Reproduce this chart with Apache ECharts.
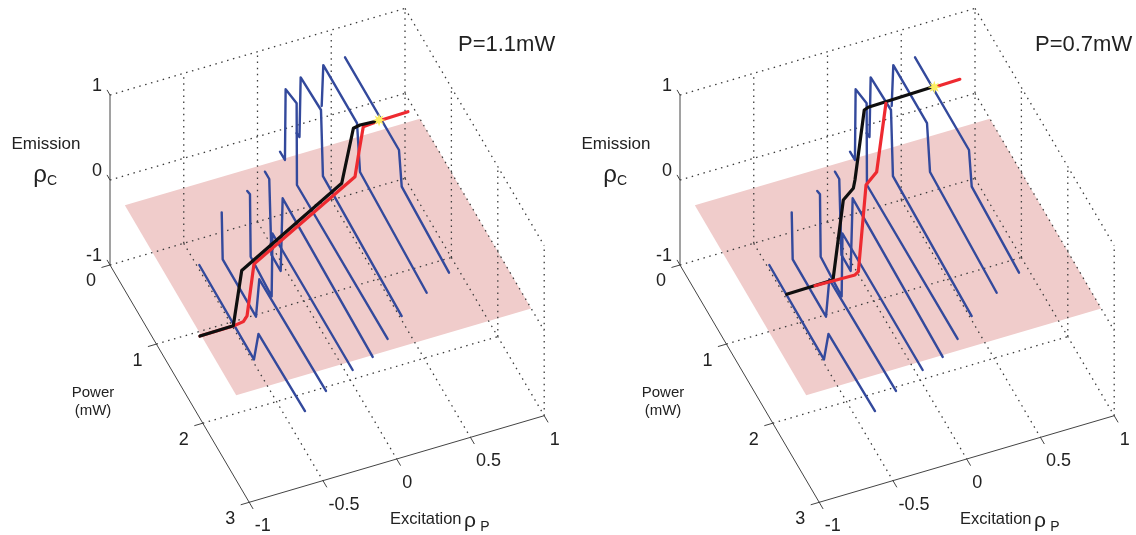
<!DOCTYPE html>
<html>
<head>
<meta charset="utf-8">
<title>Emission vs excitation and power</title>
<style>
  html, body { margin: 0; padding: 0; background: #fff; }
  #main { width: 1136px; height: 535px; }
</style>
<script src="https://cdn.jsdelivr.net/npm/echarts@6/dist/echarts.min.js"></script>
</head>
<body>
<div id="main"></div>
<script>
// tick labels
var excitationTicks = [-1, -0.5, 0, 0.5, 1];
var powerTicks = [0, 1, 2, 3];
var emissionTicks = [-1, 0, 1];

// emission vs power traces, each at a fixed excitation: [power, emission]
var traceExcitation = [-0.489, -0.337, -0.163, -0.043, 0.058, 0.17, 0.343, 0.499];
var trace1 = [[0.3, -0.981], [1.478, -0.996], [1.575, -0.606], [2.578, -0.579]];
var trace2 = [[0.3, -0.439], [0.321, -0.972], [1.039, -0.979], [1.11, -0.473], [2.547, -0.449]];
var trace3 = [[0.297, -0.279], [0.356, -0.264], [0.371, -0.984], [0.823, -1.03], [0.841, -0.273], [2.569, -0.271]];
var trace4 = [[0.297, -0.113], [0.39, -0.113], [0.437, -0.962], [0.636, -0.966], [0.679, -0.071], [2.619, -0.132]];
var trace5 = [[0.3, 0.073], [0.407, 0.075], [0.422, 0.921], [0.659, 0.978], [0.666, 0.022], [2.62, 0.029]];
var trace6 = [[0.3, 0.235], [0.364, 0.248], [0.39, 0.974], [0.828, 0.998], [0.87, 0.259], [2.567, 0.192]];
var trace7 = [[0.293, 0.459], [0.328, 0.973], [1.054, 0.967], [1.119, 0.451], [2.556, 0.368]];
var trace8 = [[0.3, 0.959], [1.463, 0.951], [1.522, 0.574], [2.541, 0.511]];
var powerTraces = [trace1, trace2, trace3, trace4, trace5, trace6, trace7, trace8];

// emission vs excitation sweeps at fixed power: [excitation, emission]
var power11 = 1.1;
var black11 = [[-0.736, -0.946], [-0.51, -0.94], [-0.453, -0.32], [-0.385, -0.251], [0.225, 0.361], [0.304, 0.968], [0.349, 0.984], [0.473, 0.971]];
var red11 = [[-0.736, -0.946], [-0.51, -0.944], [-0.442, -0.927], [-0.417, -0.873], [-0.37, -0.286], [0.315, 0.393], [0.342, 0.673], [0.371, 0.952], [0.484, 0.967], [0.674, 0.974]];
var star11 = [0.478, 0.976];

var power07 = 0.7;
var black07 = [[-0.497, -0.95], [-0.183, -0.942], [-0.113, -0.036], [-0.045, 0.068], [-0.034, 0.16], [0.029, 0.951], [0.056, 0.969], [0.486, 0.985]];
var redLow07 = [[-0.305, -0.946], [-0.034, -0.958], [-0.011, -0.931], [0.041, 0.062], [0.113, 0.179], [0.176, 0.955]];
var redTop07 = [[0.504, 0.976], [0.677, 0.982]];
var star07 = [0.504, 0.977];

// the pink plane at emission 0
var planeEmission = 0;
var planeExcitation = [-1, 1, 1, -1];
var planePower = [0.32, 0.32, 2.72, 2.72];

var BLUE = "#33499c", RED = "#ee2a30", BLACK = "#0f0f0f", PINK = "#f0cccb", INK = "#222";
var FONT = '"Liberation Sans", Arial, sans-serif';
var STAR = "path://M10,0L11.8,5.8L17,3L14.2,8.2L20,10L14.2,11.8L17,17L11.8,14.2L10,20L8.2,14.2L3,17L5.8,11.8L0,10L5.8,8.2L3,3L8.2,5.8Z";

// fixed view of the box, one panel's pixel space
function project(rhoP, power, rhoC) {
  return [
    110 + 147.5 * (rhoP + 1) + 46.4 * power,
    265 - 43.3 * (rhoP + 1) + 79.1 * power - 85 * (rhoC + 1),
  ];
}

var GAP = ["-", "-"];

// box grid, built from the ticks
function gridSegments() {
  var out = [];
  function seg(a, b) {
    out.push(project(a[0], a[1], a[2]), project(b[0], b[1], b[2]), GAP);
  }
  emissionTicks.forEach(function (z) {
    seg([-1, 0, z], [1, 0, z]);
    seg([1, 0, z], [1, 3, z]);
  });
  excitationTicks.forEach(function (x) {
    if (x > -1) seg([x, 0, -1], [x, 0, 1]);
    if (x > -1 && x < 1) seg([x, 0, -1], [x, 3, -1]);
  });
  powerTicks.forEach(function (p) {
    if (p > 0) seg([1, p, -1], [1, p, 1]);
    if (p > 0 && p < 3) seg([-1, p, -1], [1, p, -1]);
  });
  return out;
}

function axisSegments() {
  var out = [];
  function seg(a, b) {
    out.push(project(a[0], a[1], a[2]), project(b[0], b[1], b[2]), GAP);
  }
  seg([-1, 0, -1], [-1, 0, 1]);
  seg([-1, 0, -1], [-1, 3, -1]);
  seg([-1, 3, -1], [1, 3, -1]);
  emissionTicks.forEach(function (z) { seg([-1, 0, z], [-1, -0.06, z]); });
  powerTicks.forEach(function (p) { seg([-1, p, -1], [-1.055, p, -1]); });
  excitationTicks.forEach(function (x) { seg([x, 3, -1], [x, 3.08, -1]); });
  return out;
}

function lineSeries(gridIndex, points, color, width) {
  return {
    type: "line",
    xAxisIndex: gridIndex,
    yAxisIndex: gridIndex,
    data: points,
    symbol: "none",
    clip: false,
    silent: true,
    lineStyle: { color: color, width: width, join: "round", cap: "round" },
  };
}

function tickLabels(gridIndex, ticks, toPoint, align, offset) {
  return {
    type: "scatter",
    xAxisIndex: gridIndex,
    yAxisIndex: gridIndex,
    symbolSize: 1,
    clip: false,
    silent: true,
    itemStyle: { color: "transparent" },
    data: ticks.map(function (t) {
      return { value: toPoint(t), name: String(t) };
    }),
    label: {
      show: true,
      position: "inside",
      formatter: "{b}",
      align: align,
      verticalAlign: "middle",
      offset: offset,
      fontFamily: FONT,
      fontSize: 18,
      color: INK,
      textBorderWidth: 0,
      opacity: 1,
    },
  };
}

function panel(gridIndex, power, sweeps, star) {
  var list = [];

  list.push({
    type: "custom",
    xAxisIndex: gridIndex,
    yAxisIndex: gridIndex,
    silent: true,
    data: planeExcitation.map(function (x, i) {
      return project(x, planePower[i], planeEmission);
    }),
    renderItem: function (params, api) {
      if (params.dataIndex !== 0) return null;
      return {
        type: "polygon",
        shape: {
          points: planeExcitation.map(function (x, i) {
            return api.coord(project(x, planePower[i], planeEmission));
          }),
        },
        style: { fill: PINK },
      };
    },
  });

  var grid = lineSeries(gridIndex, gridSegments(), "#3c3c3c", 1.3);
  grid.lineStyle.type = [1.5, 4.6];
  grid.lineStyle.cap = "butt";
  list.push(grid);
  list.push(lineSeries(gridIndex, axisSegments(), "#444", 1));

  powerTraces.forEach(function (trace, i) {
    var pts = trace.map(function (d) {
      return project(traceExcitation[i], d[0], d[1]);
    });
    list.push(lineSeries(gridIndex, pts, BLUE, 2.4));
  });

  sweeps.forEach(function (s) {
    var pts = s.data.map(function (d) {
      return project(d[0], power, d[1]);
    });
    list.push(lineSeries(gridIndex, pts, s.color, 3.2));
  });

  list.push({
    type: "scatter",
    xAxisIndex: gridIndex,
    yAxisIndex: gridIndex,
    symbol: STAR,
    symbolSize: 13,
    clip: false,
    silent: true,
    z: 5,
    itemStyle: { color: "#fbee63", opacity: 1 },
    data: [{ value: project(star[0], power, star[1]) }],
  });

  list.push(tickLabels(gridIndex, emissionTicks, function (z) { return project(-1, 0, z); }, "right", [-8, -9]));
  list.push(tickLabels(gridIndex, powerTicks, function (p) { return project(-1, p, -1); }, "center", [-19, 16.5]));
  list.push(tickLabels(gridIndex, excitationTicks, function (x) { return project(x, 3, -1); }, "left", [5.5, 24]));
  return list;
}

function label(text, x, y, size, align) {
  return {
    type: "text",
    x: x,
    y: y,
    silent: true,
    style: {
      text: text,
      fontFamily: FONT,
      fontSize: size,
      fill: INK,
      align: align || "center",
      verticalAlign: "middle",
    },
  };
}

function panelText(dx, title, titleX) {
  return [
    label(title, titleX, 45, 22, "left"),
    label("Emission", dx + 46, 144, 17),
    label("ρ", dx + 40, 175, 24),
    label("C", dx + 52, 181, 14),
    label("Power", dx + 93, 393, 15),
    label("(mW)", dx + 93, 411, 15),
    label("Excitation", dx + 390, 519, 16.5, "left"),
    label("ρ", dx + 470, 521, 21),
    label("P", dx + 485, 527, 14),
  ];
}

var chartDom = document.getElementById("main");
var myChart = echarts.init(chartDom);

var option = {
  animation: false,
  backgroundColor: "#fff",
  grid: [
    { left: 0, top: 0, width: 570, height: 535 },
    { left: 570, top: 0, width: 566, height: 535 },
  ],
  xAxis: [
    { type: "value", gridIndex: 0, min: 0, max: 570, show: false },
    { type: "value", gridIndex: 1, min: 0, max: 566, show: false },
  ],
  yAxis: [
    { type: "value", gridIndex: 0, min: 0, max: 535, inverse: true, show: false },
    { type: "value", gridIndex: 1, min: 0, max: 535, inverse: true, show: false },
  ],
  series: panel(0, power11, [
    { data: red11, color: RED },
    { data: black11, color: BLACK },
  ], star11).concat(panel(1, power07, [
    { data: black07, color: BLACK },
    { data: redLow07, color: RED },
    { data: redTop07, color: RED },
  ], star07)),
  graphic: panelText(0, "P=1.1mW", 458).concat(panelText(570, "P=0.7mW", 1035)),
};

option && myChart.setOption(option);
</script>
</body>
</html>
